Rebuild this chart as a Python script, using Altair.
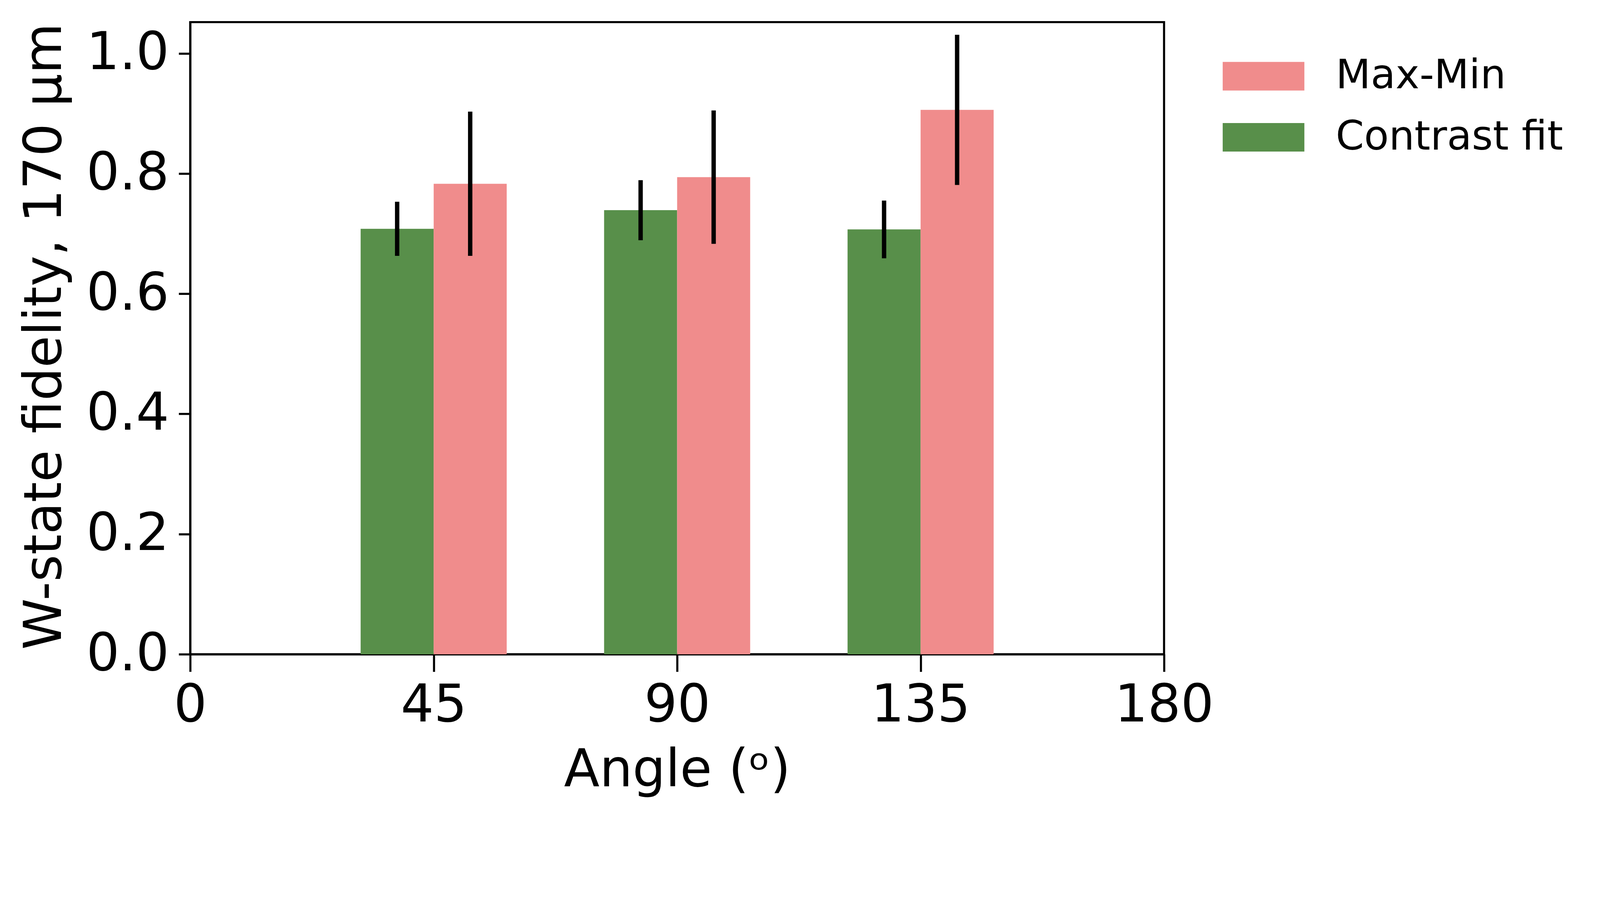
import altair as alt
import pandas as pd

# ---- data ----
angles = [45, 90, 135]
contrast_fit = [0.708, 0.739, 0.707]
contrast_err = [0.045, 0.050, 0.048]
max_min = [0.783, 0.794, 0.906]
max_min_err = [0.120, 0.111, 0.125]
series_names = ["Max-Min", "Contrast fit"]
series_colors = ["#F08C8C", "#588F4A"]
x_ticks = [0, 45, 90, 135, 180]
y_ticks = [0.0, 0.2, 0.4, 0.6, 0.8, 1.0]
bar_w = 13.5

rows = []
for a, v, e in zip(angles, contrast_fit, contrast_err):
    rows.append({"series": "Contrast fit", "angle": a, "value": v, "err": e, "off": -1})
for a, v, e in zip(angles, max_min, max_min_err):
    rows.append({"series": "Max-Min", "angle": a, "value": v, "err": e, "off": 0})
df = pd.DataFrame(rows)

FONT = "DejaVu Sans"
TICK_FS = 149
LEG_FS = 116

base = alt.Chart(df).transform_calculate(
    x0=f"datum.angle + datum.off * {bar_w}",
    x1=f"datum.angle + (datum.off + 1) * {bar_w}",
    xc=f"datum.angle + (datum.off + 0.5) * {bar_w}",
    lo="datum.value - datum.err",
    hi="datum.value + datum.err",
)

xscale = alt.Scale(domain=[0, 180], nice=False, zero=False)
yscale = alt.Scale(domain=[0, 1.052], nice=False, zero=False)

xaxis = alt.Axis(values=x_ticks, title="Angle (ᵒ)", grid=False, tickSize=50,
                 labelPadding=24, titlePadding=60, format="d",
                 labelFlush=False, labelOverlap=False, labelLimit=2000)
yaxis = alt.Axis(values=y_ticks, title="W-state fidelity, 170 μm", grid=False,
                 tickSize=33, labelPadding=28, format=".1f",
                 titleX=-340, titleY=900, titleAngle=270, titleBaseline="bottom",
                 titleAlign="center",
                 labelFlush=False, labelOverlap=False, labelLimit=2000)

bars = base.mark_bar(strokeWidth=0, opacity=1).encode(
    x=alt.X("x0:Q", scale=xscale, axis=xaxis),
    x2="x1:Q",
    y=alt.Y("value:Q", scale=yscale, axis=yaxis),
    y2=alt.datum(0),
    color=alt.Color(
        "series:N",
        scale=alt.Scale(domain=series_names, range=series_colors),
        legend=alt.Legend(
            title=None, orient="none", legendX=2958, legendY=38,
            symbolType="M-1,-0.35H1V0.35H-1Z", symbolSize=54756,
            symbolStrokeWidth=0, symbolOpacity=1,
            labelFontSize=LEG_FS, labelFont=FONT, labelColor="black",
            labelOffset=90, rowPadding=-28, padding=0, labelLimit=2000,
        ),
    ),
)

errs = base.mark_rule(strokeWidth=12.5, color="black").encode(
    x=alt.X("xc:Q", scale=xscale),
    y=alt.Y("lo:Q", scale=yscale),
    y2="hi:Q",
)

chart = alt.layer(bars, errs).properties(
    width=2790, height=1811,
    autosize=alt.AutoSizeParams(type="none"),
    padding={"left": 536, "top": -76, "right": 1240, "bottom": 455},
    background="white",
).configure(font=FONT).configure_view(
    stroke="black", strokeWidth=6
).configure_axis(
    domainColor="black", domainWidth=6, tickColor="black", tickWidth=6,
    labelFont=FONT, labelFontSize=TICK_FS, labelColor="black",
    titleFont=FONT, titleFontSize=TICK_FS, titleColor="black",
    titleFontWeight="normal", zindex=1,
)

chart.save("out.html", embed_options={"renderer": "svg", "actions": False})
